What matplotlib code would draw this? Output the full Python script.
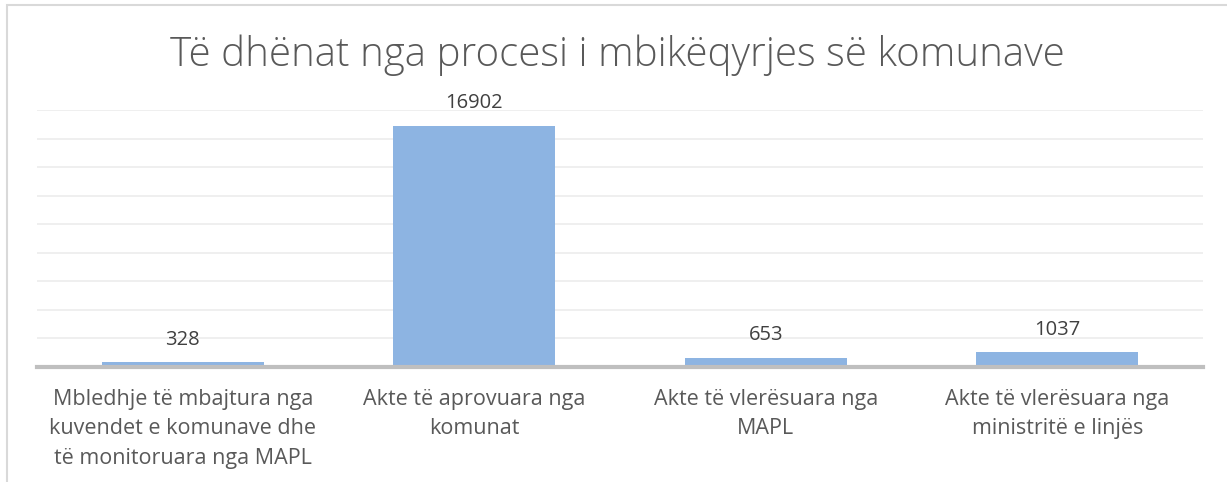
import numpy as np
import matplotlib
matplotlib.use("Agg")
import matplotlib.pyplot as plt
from matplotlib.patches import Rectangle

# chart data
title = "Të dhënat nga procesi i mbikëqyrjes së komunave"
categories = [
    "Mbledhje të mbajtura nga\nkuvendet e komunave dhe\ntë monitoruara nga MAPL",
    "Akte të aprovuara nga\nkomunat",
    "Akte të vlerësuara nga\nMAPL",
    "Akte të vlerësuara nga\nministritë e linjës",
]
values = [328, 16902, 653, 1037]

W, H = 1227, 482
fig = plt.figure(figsize=(W / 100, H / 100), dpi=100)
fig.patch.set_facecolor("white")

# outer chart border (only left and top visible in the crop)
fig.add_artist(Rectangle((7 / W, -0.1), 1.2, (H - 5) / H + 0.1,
                         transform=fig.transFigure, fill=False,
                         edgecolor="#d9d9d9", linewidth=1.5))

ax = fig.add_axes([37 / W, 1 - 367 / H, (1203 - 37) / W, (367 - 110) / H])
x = np.arange(len(values))
ax.bar(x, values, width=0.556, color="#8db4e2", zorder=2)

ax.set_xlim(-0.5, len(values) - 0.5)
ax.set_ylim(0, 18000)
ax.set_yticks(np.arange(0, 18001, 2000))
ax.yaxis.grid(True, color="#ececec", linewidth=1.2, zorder=0)
ax.tick_params(axis="y", left=False, labelleft=False)
ax.tick_params(axis="x", bottom=False, pad=12)
for s in ["top", "right", "left"]:
    ax.spines[s].set_visible(False)
ax.spines["bottom"].set_color("#bfbfbf")
ax.spines["bottom"].set_linewidth(3)
ax.spines["bottom"].set_zorder(3)

ax.set_xticks(x)
ax.set_xticklabels(categories, fontsize=15.5, color="#595959",
                   family="Open Sans", linespacing=1.55)

for xi, v in zip(x, values):
    ax.annotate(str(v), (xi, v), xytext=(0, 9), textcoords="offset points",
                ha="center", va="bottom", fontsize=14.5, color="#404040",
                family="Open Sans")

fig.text(0.503, 1 - 55 / H, title, ha="center", va="center", fontsize=29,
         color="#595959", family="Open Sans", fontweight="light")

fig.savefig("out.png", dpi=100, facecolor="white")
